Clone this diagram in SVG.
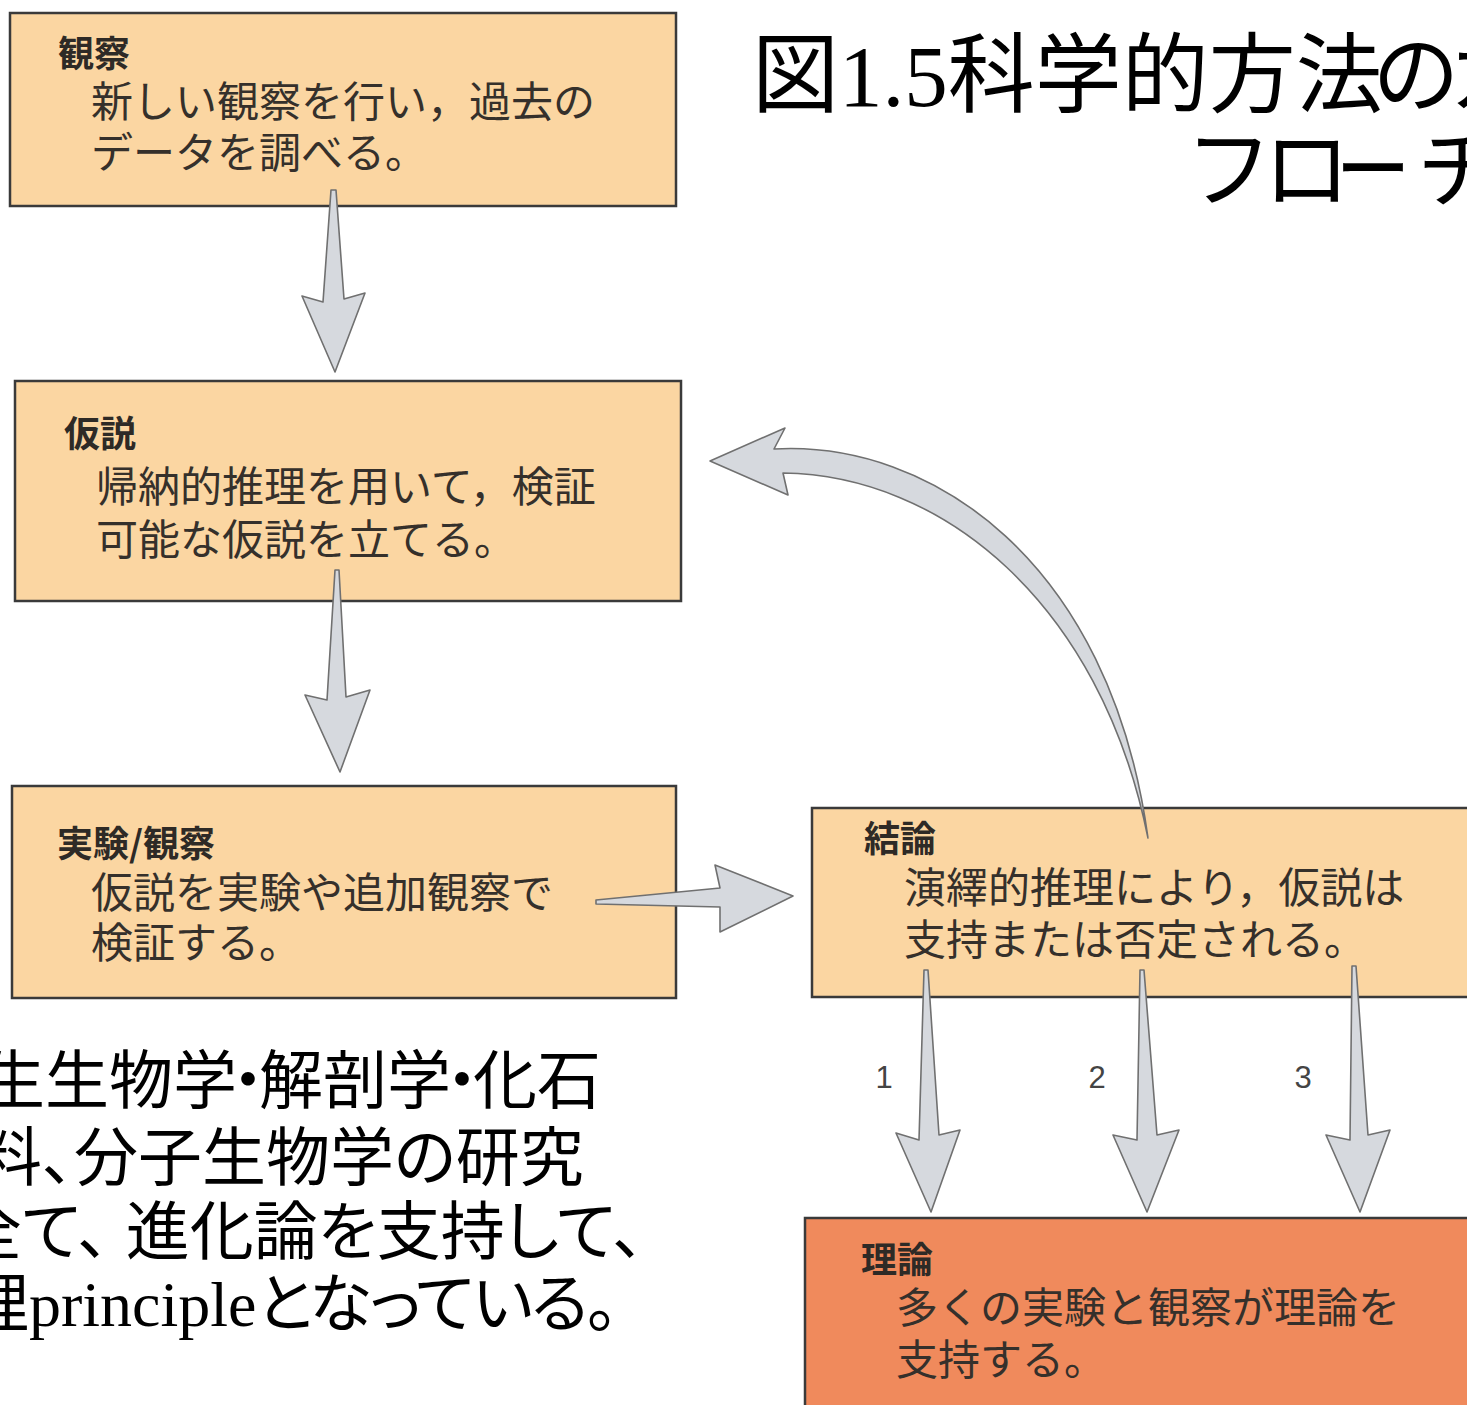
<svg xmlns="http://www.w3.org/2000/svg" width="1467" height="1405" viewBox="0 0 1467 1405">
<style>
.box{fill:#FBD6A2;stroke:#3a3a3a;stroke-width:2.5}
.box2{fill:#F08A5C;stroke:#3a3a3a;stroke-width:2.5}
.hd{font-family:"Noto Sans CJK JP",sans-serif;font-size:36px;font-weight:bold;fill:#2e2a26}
.bd{font-family:"Noto Sans CJK JP",sans-serif;font-size:42px;fill:#35302b}
.arr{fill:#D6D9DE;stroke:#707070;stroke-width:1.6;stroke-linejoin:round}
.num{font-family:"Liberation Sans",Arial,sans-serif;font-size:31px;fill:#444;text-anchor:middle}
.big{font-family:"Liberation Serif","Noto Sans CJK JP",serif;fill:#000;font-feature-settings:"palt"}
</style>
<rect width="1467" height="1405" fill="#ffffff"/>

<g id="title">
<text class="big" x="752" y="106" font-size="87">図1.5科学的方法<tspan x="1374">の</tspan><tspan x="1450">カ</tspan></text>
<text class="big" x="1192" y="201" font-size="87">フロ<tspan x="1336" textLength="74" lengthAdjust="spacingAndGlyphs">ー</tspan><tspan x="1420">チ</tspan></text>
</g>

<g id="node-observation">
<rect class="box" x="10" y="13" width="666" height="193"/>
<text class="hd" x="58" y="67">観察</text>
<text class="bd" x="91" y="117">新しい観察を行い，過去の</text>
<text class="bd" x="91" y="168">データを調べる。</text>
</g>

<g id="node-hypothesis">
<rect class="box" x="15" y="381" width="666" height="220"/>
<text class="hd" x="64" y="447">仮説</text>
<text class="bd" x="96" y="502">帰納的推理を用いて，検証</text>
<text class="bd" x="96" y="555">可能な仮説を立てる。</text>
</g>

<g id="node-experiment">
<rect class="box" x="12" y="786" width="664" height="212"/>
<text class="hd" x="57" y="857">実験/観察</text>
<text class="bd" x="91" y="908">仮説を実験や追加観察で</text>
<text class="bd" x="91" y="958">検証する。</text>
</g>

<g id="node-conclusion">
<rect class="box" x="812" y="808" width="680" height="189"/>
<text class="hd" x="864" y="852">結論</text>
<text class="bd" x="904" y="903">演繹的推理により，仮説は</text>
<text class="bd" x="904" y="955">支持または否定される。</text>
</g>

<g id="node-theory">
<rect class="box2" x="805" y="1218" width="690" height="210"/>
<text class="hd" x="861" y="1273">理論</text>
<text class="bd" x="896" y="1323">多くの実験と観察が理論を</text>
<text class="bd" x="896" y="1375">支持する。</text>
</g>

<g id="note">
<text class="big" font-size="64" x="-19" y="1103">生生物学<tspan dx="-5">・</tspan><tspan dx="-5">解剖学</tspan><tspan dx="-5">・</tspan><tspan dx="-5">化石</tspan></text>
<text class="big" font-size="64" x="-22" y="1180">料、分子生物学の研究</text>
<text class="big" font-size="64" x="-42" y="1254">全て、<tspan dx="16">進化論を支持して、</tspan></text>
<text class="big" font-size="64" x="-35" y="1326">理principle<tspan letter-spacing="-2">となっている。</tspan></text>
</g>

<g id="connectors">
<path class="arr" d="M331,190 L336,190 L344,299 L365,293 L335,372 L302,296 L323,302 Z"/>
<path class="arr" d="M335,570 L339,570 L346,697 L370,690 L340,772 L305,695 L327,700 Z"/>
<path class="arr" d="M596,900 L720,888 L715,865 L793,896 L720,932 L720,907 L596,904 Z"/>
<path class="arr" d="M1148,838 C1100,600 940,475 783,473 L788,495 L710,461 L785,428 L774,449 C930,440 1110,560 1148,838 Z"/>
<path class="arr" d="M924,970 L928,970 L939,1135 L960,1130 L931,1212 L896,1133 L919,1140 Z"/>
<path class="arr" d="M1140,970 L1144,970 L1157,1135 L1179,1130 L1147,1212 L1113,1135 L1137,1140 Z"/>
<path class="arr" d="M1352,966 L1356,966 L1368,1135 L1390,1130 L1360,1212 L1326,1135 L1350,1140 Z"/>
<text class="num" x="884" y="1088">1</text>
<text class="num" x="1097" y="1088">2</text>
<text class="num" x="1303" y="1088">3</text>
</g>
</svg>
